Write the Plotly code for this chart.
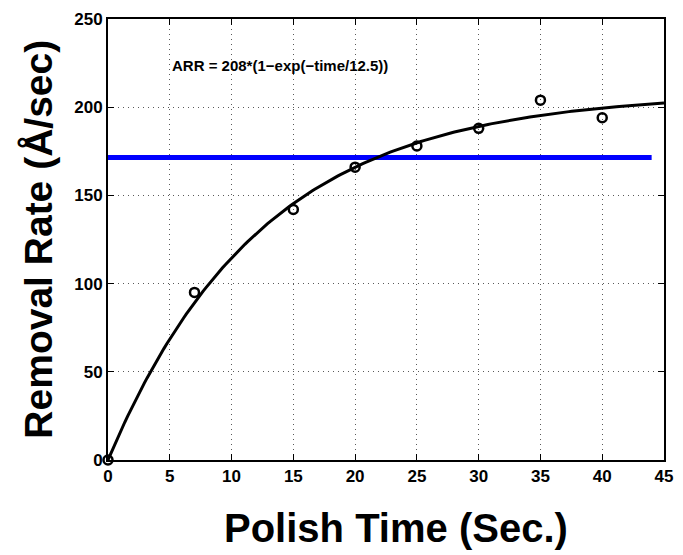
import numpy as np
import plotly.graph_objects as go

# Measured data
polish_time = [0, 7, 15, 20, 25, 30, 35, 40]
removal_rate = [0, 95, 142, 166, 178, 188, 204, 194]

# Fit parameters shown in the annotation
fit_amplitude = 208
fit_tau = 12.5
fit_time = np.linspace(0, 45, 200)
fit_rate = fit_amplitude * (1 - np.exp(-fit_time / fit_tau))

# Horizontal reference line
ref_x = [0, 44]
ref_y = [171.5, 171.5]

x_ticks = [0, 5, 10, 15, 20, 25, 30, 35, 40, 45]
y_ticks = [0, 50, 100, 150, 200, 250]

FONT = "Liberation Sans"

fig = go.Figure()
fig.add_trace(go.Scatter(x=ref_x, y=ref_y, mode="lines",
                         line=dict(color="rgb(0,0,255)", width=5),
                         showlegend=False, hoverinfo="skip"))
fig.add_trace(go.Scatter(x=fit_time, y=fit_rate, mode="lines",
                         line=dict(color="black", width=3),
                         showlegend=False))
fig.add_trace(go.Scatter(x=polish_time, y=removal_rate, mode="markers",
                         marker=dict(symbol="circle-open", size=9, color="black",
                                     line=dict(width=2.5, color="black")),
                         showlegend=False, cliponaxis=False))

axis_common = dict(
    showgrid=True, gridcolor="rgb(90,90,90)", griddash="1px,4px", gridwidth=1,
    showline=True, linecolor="black", linewidth=2, mirror="ticks",
    ticks="inside", ticklen=6, tickwidth=1, tickcolor="black",
    tickfont=dict(family=FONT, size=17, color="black"),
    zeroline=False,
)

fig.update_layout(
    width=683, height=555,
    margin=dict(l=108, r=10, t=14, b=95),
    paper_bgcolor="white", plot_bgcolor="white",
    xaxis=dict(range=[0, 45], tickvals=x_ticks,
               ticktext=["<b>%d</b>" % v for v in x_ticks], **axis_common),
    yaxis=dict(range=[0, 250], tickvals=y_ticks,
               ticktext=["<b>%d</b>" % v for v in y_ticks], **axis_common),
    annotations=[
        dict(x=(171 - 108) / 565, y=(460 - 61) / 446, xref="paper", yref="paper",
             xanchor="left", yanchor="middle",
             text="<b>ARR = 208*(1\u2212exp(\u2212time/12.5))</b>", showarrow=False,
             font=dict(family=FONT, size=15, color="black")),
        dict(x=(401 - 108) / 565, y=-(529 - 460) / 446, xref="paper", yref="paper",
             xanchor="center", yanchor="middle", text="<b>Polish Time (Sec.)</b>", showarrow=False,
             font=dict(family=FONT, size=40, color="black")),
        dict(x=(37 - 108) / 565, y=(460 - 237) / 446, xref="paper", yref="paper",
             xanchor="center", yanchor="middle", text="<b>Removal Rate (Å/sec)</b>", showarrow=False,
             textangle=-90,
             font=dict(family=FONT, size=39, color="black")),
    ],
)

fig.write_html("out.html")
